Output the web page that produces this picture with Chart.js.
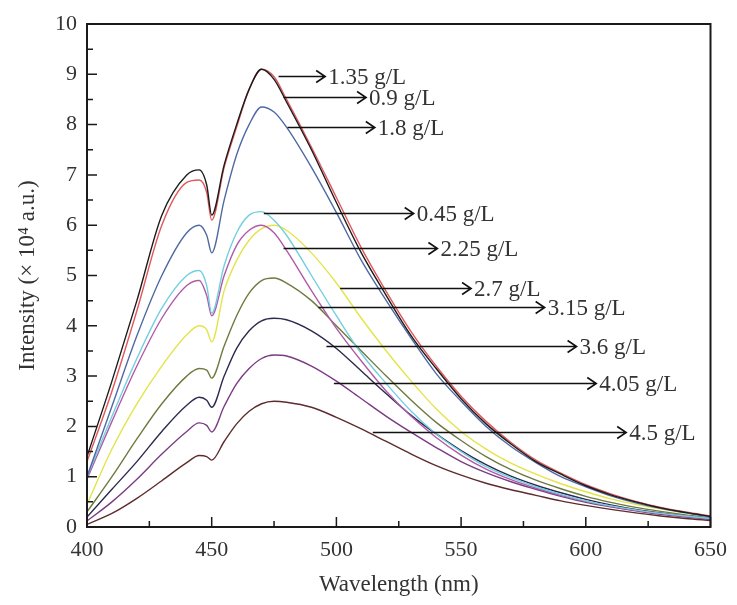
<!DOCTYPE html>
<html>
<head>
<meta charset="utf-8">
<script src="https://cdn.jsdelivr.net/npm/chart.js@4.4.1/dist/chart.umd.min.js"></script>
<style>
  html, body { margin: 0; padding: 0; background: #ffffff; }
  canvas { display: block; }
</style>
</head>
<body>
<canvas id="c" width="737" height="605"></canvas>
<script>
// Wavelength grid (nm)
const wavelengths = [400,410,420,430,440,445,448,450,455,460,465,470,475,480,490,500,510,520,530,540,550,560,570,580,590,600,610,620,630,640,650];

// Series (intensity ×10^4 a.u.)
const s135 = [1.4,2.9,4.5,6.2,7.0,7.1,6.8,6.2,7.2,8.0,8.7,9.1,8.9,8.45,7.5,6.45,5.45,4.6,3.8,3.15,2.55,2.05,1.65,1.3,1.05,0.82,0.64,0.5,0.38,0.29,0.21];
const s09  = [1.3,2.7,4.3,6.0,6.85,6.9,6.65,6.1,7.15,7.95,8.7,9.1,8.95,8.5,7.55,6.55,5.55,4.68,3.88,3.2,2.6,2.1,1.68,1.33,1.07,0.84,0.66,0.51,0.39,0.3,0.22];
const s18  = [1.0,2.4,3.8,5.0,5.85,6.0,5.8,5.45,6.5,7.4,8.0,8.35,8.25,7.95,7.15,6.25,5.3,4.5,3.75,3.05,2.5,2.0,1.6,1.28,1.0,0.8,0.62,0.48,0.37,0.28,0.2];
const s045 = [1.0,2.2,3.35,4.35,5.0,5.1,4.8,4.25,5.2,5.85,6.2,6.27,6.1,5.8,5.0,4.2,3.45,2.85,2.3,1.85,1.5,1.2,0.98,0.8,0.65,0.52,0.42,0.34,0.27,0.22,0.17];
const s225 = [0.95,2.1,3.2,4.15,4.8,4.9,4.6,4.2,5.0,5.6,5.9,6.0,5.85,5.5,4.7,3.95,3.3,2.7,2.2,1.78,1.43,1.15,0.94,0.77,0.63,0.51,0.41,0.33,0.27,0.21,0.17];
const s27  = [0.45,1.55,2.45,3.2,3.82,4.0,3.92,3.68,4.7,5.3,5.7,5.93,6.0,5.9,5.45,4.85,4.15,3.5,2.9,2.35,1.9,1.55,1.27,1.05,0.86,0.7,0.56,0.45,0.36,0.28,0.21];
const s315 = [0.3,1.0,1.75,2.45,3.0,3.15,3.12,2.96,3.6,4.2,4.65,4.9,4.95,4.85,4.5,4.0,3.5,3.0,2.52,2.08,1.72,1.4,1.14,0.93,0.76,0.61,0.49,0.39,0.31,0.24,0.18];
const s36  = [0.2,0.75,1.3,1.9,2.42,2.58,2.52,2.38,3.0,3.55,3.9,4.1,4.15,4.12,3.9,3.55,3.1,2.65,2.22,1.85,1.52,1.24,1.01,0.83,0.68,0.55,0.44,0.35,0.28,0.22,0.17];
const s405 = [0.12,0.5,0.95,1.45,1.9,2.07,2.02,1.89,2.4,2.85,3.15,3.35,3.42,3.4,3.2,2.9,2.55,2.2,1.88,1.58,1.3,1.08,0.9,0.75,0.61,0.49,0.4,0.32,0.25,0.2,0.15];
const s45  = [0.05,0.27,0.57,0.92,1.28,1.42,1.4,1.33,1.7,2.05,2.3,2.45,2.5,2.48,2.38,2.18,1.95,1.7,1.45,1.22,1.03,0.87,0.74,0.63,0.52,0.43,0.35,0.28,0.22,0.17,0.13];

const seriesLabels = ['1.35 g/L','0.9 g/L','1.8 g/L','0.45 g/L','2.25 g/L','2.7 g/L','3.15 g/L','3.6 g/L','4.05 g/L','4.5 g/L'];
const seriesValues = [s135, s09, s18, s045, s225, s27, s315, s36, s405, s45];
const seriesColors = ['#1c1c1c','#e0585c','#4f6aa3','#72cfe0','#b25aa8','#e4e44a','#6e7a3e','#2b2b4e','#7a3c82','#5e2c2c'];

// Annotation arrows (data units): label, y level, arrow start λ, arrow tip λ
const arrowLabels = ['1.35 g/L','0.9 g/L','1.8 g/L','0.45 g/L','2.25 g/L','2.7 g/L','3.15 g/L','3.6 g/L','4.05 g/L','4.5 g/L'];
const arrowY      = [8.97, 8.55, 7.95, 6.24, 5.55, 4.75, 4.37, 3.6, 2.86, 1.89];
const arrowStart  = [476.8, 478.8, 480.4, 470.9, 478.8, 501.5, 492.8, 496.0, 499.0, 514.6];
const arrowEnd    = [495.5, 511.9, 515.4, 531.0, 540.5, 554.0, 583.5, 596.3, 604.2, 616.2];

const yTicks = [0,1,2,3,4,5,6,7,8,9,10];
const xTicks = [400,450,500,550,600,650];

const FONT = "'Liberation Serif', 'DejaVu Serif', serif";
const TXT = '#333333';

const datasets = seriesValues.map((vals, i) => ({
  label: seriesLabels[i],
  data: wavelengths.map((w, j) => ({x: w, y: vals[j]})),
  borderColor: seriesColors[i],
  borderWidth: 1.4,
  pointRadius: 0,
  fill: false,
  cubicInterpolationMode: 'monotone'
}));

const framePlugin = {
  id: 'frame',
  beforeDraw(chart) {
    const ctx = chart.ctx;
    ctx.save();
    ctx.fillStyle = '#ffffff';
    ctx.fillRect(0, 0, chart.width, chart.height);
    ctx.restore();
  },
  afterDraw(chart) {
    const {ctx, chartArea: a, scales: {x, y}} = chart;
    ctx.save();
    ctx.strokeStyle = '#1a1a1a';
    ctx.lineWidth = 2;
    ctx.strokeRect(a.left, a.top, a.right - a.left, a.bottom - a.top);
    ctx.lineWidth = 1.5;
    ctx.beginPath();
    for (let v = 0; v <= 10; v += 0.5) {
      const py = y.getPixelForValue(v);
      const len = Number.isInteger(v) ? 10 : 6;
      ctx.moveTo(a.left, py); ctx.lineTo(a.left + len, py);
    }
    for (let w = 400; w <= 650; w += 25) {
      const px = x.getPixelForValue(w);
      const len = (w % 50 === 0) ? 10 : 6;
      ctx.moveTo(px, a.bottom); ctx.lineTo(px, a.bottom - len);
    }
    ctx.stroke();
    ctx.strokeStyle = '#111111';
    ctx.lineWidth = 1.6;
    ctx.font = '23px ' + FONT;
    ctx.fillStyle = TXT;
    ctx.textBaseline = 'middle';
    ctx.textAlign = 'left';
    for (let i = 0; i < arrowLabels.length; i++) {
      const py = Math.round(y.getPixelForValue(arrowY[i])) + 0.5;
      const x0 = x.getPixelForValue(arrowStart[i]);
      const x1 = x.getPixelForValue(arrowEnd[i]);
      ctx.beginPath();
      ctx.moveTo(x0, py); ctx.lineTo(x1, py);
      ctx.moveTo(x1 - 9, py - 6); ctx.lineTo(x1, py); ctx.lineTo(x1 - 9, py + 6);
      ctx.stroke();
      ctx.fillText(arrowLabels[i], x1 + 3, py + 1);
    }
    ctx.restore();
  }
};

new Chart(document.getElementById('c'), {
  type: 'line',
  data: { datasets },
  plugins: [framePlugin],
  options: {
    responsive: false,
    animation: false,
    devicePixelRatio: 1,
    layout: { padding: { top: 24, right: 22, left: 0, bottom: 0 } },
    plugins: { legend: { display: false }, tooltip: { enabled: false } },
    scales: {
      x: {
        type: 'linear', min: 400, max: 650,
        afterBuildTicks: s => { s.ticks = xTicks.map(v => ({value: v})); },
        afterFit: s => { s.height = 78; },
        ticks: { color: TXT, font: { family: FONT, size: 22 }, padding: 10, maxRotation: 0 },
        grid: { display: false, drawTicks: false },
        border: { display: false },
        title: { display: true, text: 'Wavelength (nm)', color: TXT, font: { family: FONT, size: 23 }, padding: { top: 0, bottom: 6 } }
      },
      y: {
        type: 'linear', min: 0, max: 10,
        afterBuildTicks: s => { s.ticks = yTicks.map(v => ({value: v})); },
        afterFit: s => { s.width = 87; },
        ticks: { color: TXT, font: { family: FONT, size: 22 }, padding: 10 },
        grid: { display: false, drawTicks: false },
        border: { display: false },
        title: { display: true, text: 'Intensity (× 10⁴ a.u.)', color: TXT, font: { family: FONT, size: 23 }, padding: { top: 14, bottom: 0 } }
      }
    }
  }
});
</script>
</body>
</html>
